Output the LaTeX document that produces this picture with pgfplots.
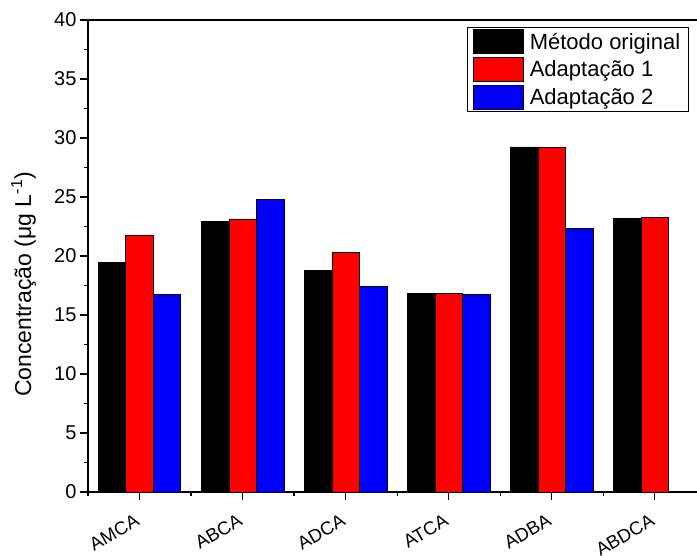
\documentclass[border=0pt]{standalone}
\usepackage{pgfplots}
\pgfplotsset{compat=1.18}
\usepackage{fontspec}
\setmainfont{Liberation Sans}

\definecolor{barred}{RGB}{255,0,0}
\definecolor{barblue}{RGB}{0,0,255}

\begin{document}
\begin{tikzpicture}
\begin{axis}[
  name=ax,
  scale only axis,
  width=609pt, height=472pt,
  xmin=0.5, xmax=6.41,
  ymin=0, ymax=40,
  axis lines*=left,
  axis line style={line width=1.3pt},
  tick style={line width=1.2pt, black},
  tick align=outside,
  major tick length=8pt,
  minor tick length=4pt,
  ytick={0,5,...,40},
  minor y tick num=1,
  xtick={1,2,3,4,5,6},
  xticklabels={AMCA,ABCA,ADCA,ATCA,ADBA,ABDCA},
  minor xtick={0.5,1.5,2.5,3.5,4.5,5.5},
  /pgf/number format/assume math mode=true,
  yticklabel style={font=\fontsize{20}{22}\selectfont},
  xticklabel style={font=\fontsize{18.5}{20}\selectfont, rotate=30, anchor=north east, yshift=-5.5pt, xshift=-8pt},
  ylabel={Concentração (μg L\textsuperscript{-1})},
  ylabel style={font=\fontsize{23}{26}\selectfont, at={(axis description cs:-0.106,0.44)}, anchor=center},
  ybar=0pt,
  bar width=27.5pt,
  every axis plot/.append style={draw=black, line width=0.6pt},
  legend cell align=left,
  legend image code/.code={\draw[#1, draw=black, line width=0.6pt] (0pt,-12pt) rectangle (50pt,12pt);},
  legend style={
    at={(axis description cs:0.622,0.985)}, anchor=north west,
    draw=black, line width=0.8pt,
    font=\fontsize{22}{26}\selectfont,
    inner xsep=6pt, inner ysep=2pt,
    row sep=3pt, column sep=4pt,
  },
]
\addplot[fill=black] coordinates {(1,19.47) (2,22.94) (3,18.79) (4,16.81) (5,29.24) (6,23.16)};
\addplot[fill=barred] coordinates {(1,21.78) (2,23.14) (3,20.31) (4,16.86) (5,29.18) (6,23.25)};
\addplot[fill=barblue] coordinates {(1,16.75) (2,24.77) (3,17.43) (4,16.72) (5,22.31)};
\legend{Método original, Adaptação 1, Adaptação 2}
\draw[line width=1.3pt] (rel axis cs:0,1) -- (rel axis cs:1,1);
\end{axis}
\pgfresetboundingbox
\path[use as bounding box] ([shift={(-88pt,-64pt)}]ax.south west) rectangle ([shift={(0pt,20pt)}]ax.north east);
\end{tikzpicture}
\end{document}
